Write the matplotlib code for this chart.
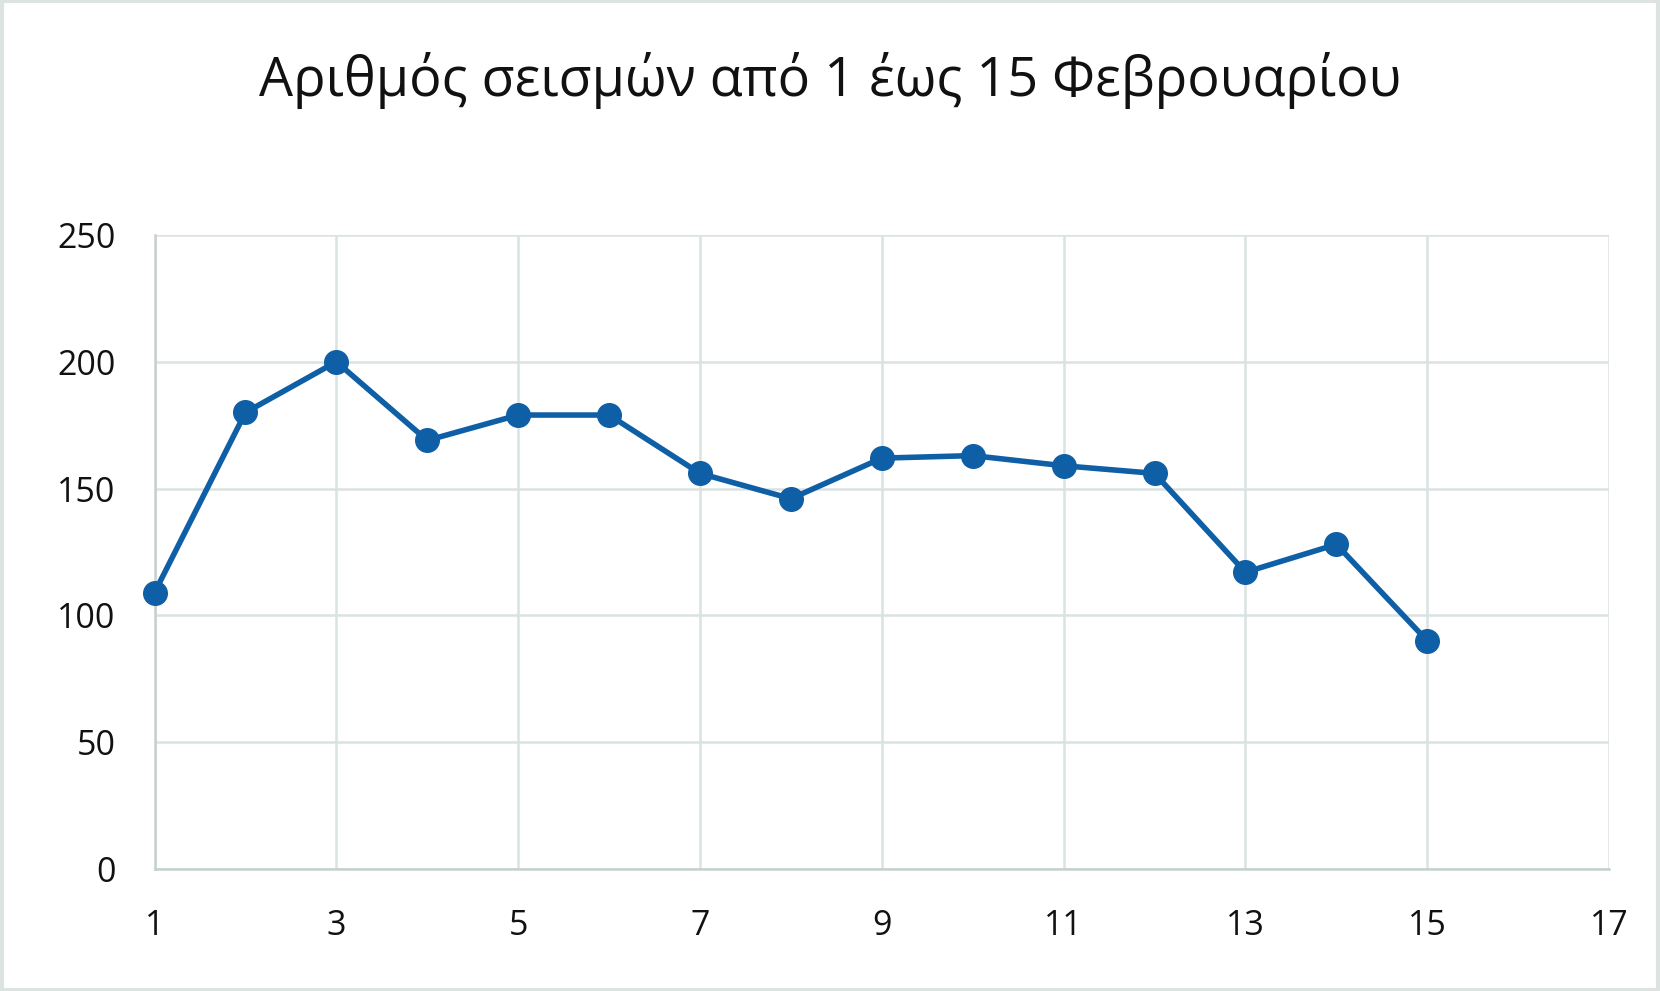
import matplotlib
matplotlib.use("Agg")
import matplotlib.pyplot as plt
from matplotlib.patches import Rectangle

days = [1, 2, 3, 4, 5, 6, 7, 8, 9, 10, 11, 12, 13, 14, 15]
quakes = [109, 180, 200, 169, 179, 179, 156, 146, 162, 163, 159, 156, 117, 128, 90]
x_ticks = [1, 3, 5, 7, 9, 11, 13, 15, 17]
y_ticks = [0, 50, 100, 150, 200, 250]
title = "Αριθμός σεισμών από 1 έως 15 Φεβρουαρίου"

fig = plt.figure(figsize=(16.6, 9.91), dpi=100)
ax = fig.add_axes([0.0931, 0.1231, 0.8762, 0.6398])

grid_c = "#D9E3E1"
line_c = "#0F5FA6"

ax.plot(days, quakes, color=line_c, linewidth=4.0, marker="o", markersize=17,
        markerfacecolor=line_c, markeredgecolor=line_c, zorder=3, clip_on=False)

ax.set_xlim(1, 17)
ax.set_ylim(0, 250)
ax.set_xticks(x_ticks)
ax.set_yticks(y_ticks)
ax.grid(True, color=grid_c, linewidth=1.8, zorder=0)
ax.set_axisbelow(True)
for s in ["top", "right"]:
    ax.spines[s].set_visible(False)
for s in ["left", "bottom"]:
    ax.spines[s].set_color("#C5D1CF")
    ax.spines[s].set_linewidth(1.8)
ax.tick_params(length=0, labelsize=24.5, colors="#111111")
for lab in ax.get_xticklabels() + ax.get_yticklabels():
    lab.set_family(["Open Sans", "DejaVu Sans"])
ax.tick_params(axis="x", pad=29)
ax.tick_params(axis="y", pad=28)

fig.text(0.5, 0.919, title, ha="center", va="center", fontsize=38.8,
         family=["Open Sans", "DejaVu Sans"], color="#111111")

fig.patches.append(Rectangle((0.001, 0.001), 0.998, 0.998, transform=fig.transFigure,
                             fill=False, edgecolor="#DCE3E1", linewidth=3))

fig.savefig("out.png", dpi=100, facecolor="white")
